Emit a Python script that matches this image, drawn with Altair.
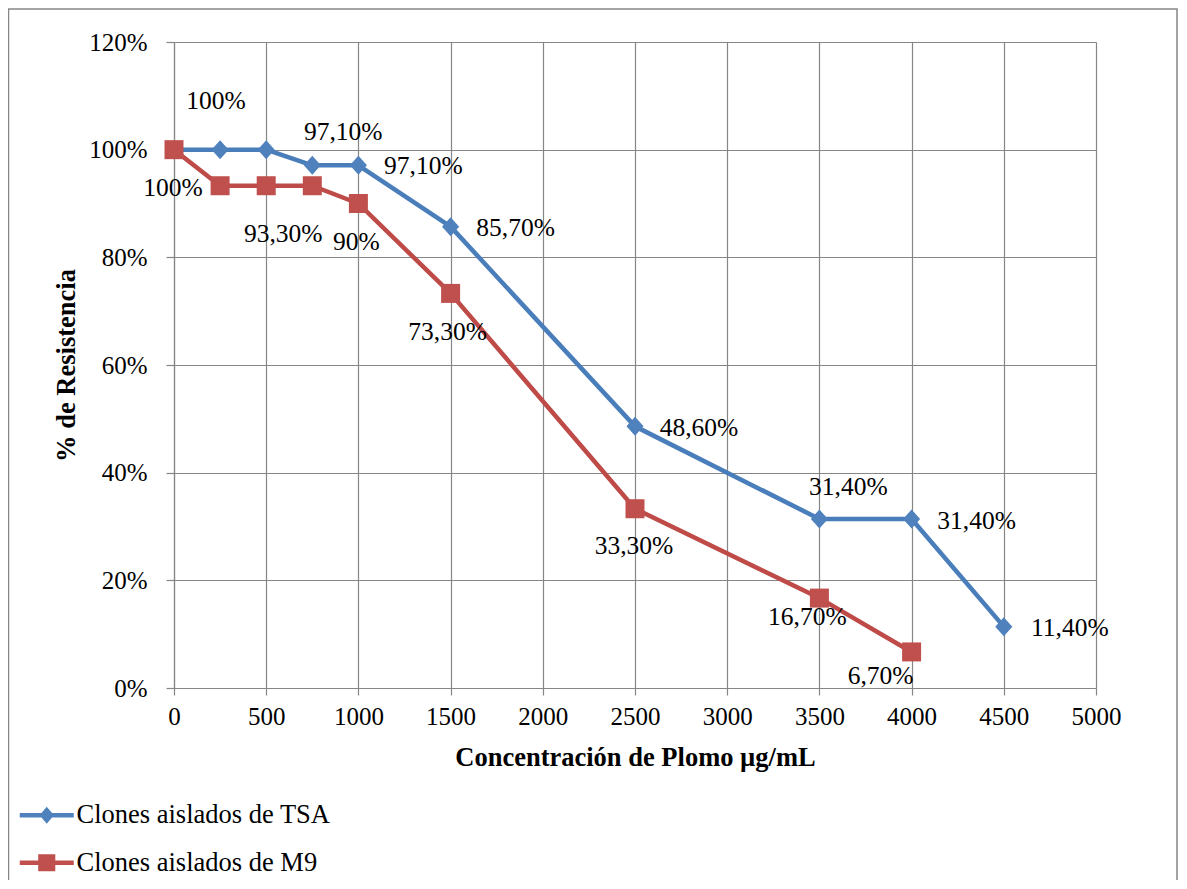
import altair as alt
import pandas as pd

# ---------------- data ----------------
series = ["Clones aislados de TSA", "Clones aislados de M9"]

conc_tsa = [0, 250, 500, 750, 1000, 1500, 2500, 3500, 4000, 4500]
res_tsa = [100, 100, 100, 97.1, 97.1, 85.7, 48.6, 31.4, 31.4, 11.4]
lab_tsa = ["", "100%", "", "97,10%", "97,10%", "85,70%", "48,60%", "31,40%", "31,40%", "11,40%"]

conc_m9 = [0, 250, 500, 750, 1000, 1500, 2500, 3500, 4000]
res_m9 = [100, 93.3, 93.3, 93.3, 90, 73.3, 33.3, 16.7, 6.7]
lab_m9 = ["100%", "", "93,30%", "", "90%", "73,30%", "33,30%", "16,70%", "6,70%"]

x_ticks = [0, 500, 1000, 1500, 2000, 2500, 3000, 3500, 4000, 4500, 5000]
y_ticks = [0, 20, 40, 60, 80, 100, 120]

x_title = "Concentración de Plomo µg/mL"
y_title = "% de Resistencia"

# ---------------- styles ----------------
line_colors = ["#4A7EBB", "#BE4B48"]
marker_colors = ["#4F81BD", "#C0504D"]
grid_color = "#868686"
FONT = "Liberation Serif"

# label offsets (pixels) for each data label, same order as the data
off_tsa = [None, (-4, -49), None, (31, -33), (65, 1), (65, 1), (64, 2), (29, -32), (65, 2), (66, 1)]
off_m9 = [(-1, 38), None, (17, 48), None, (-2, 38), (-3, 39), (-1, 37), (-12, 19), (-31, 24)]

diamond_path = "M0,-1 L0.9,0 L0,1 L-0.9,0 Z"
legend_paths = [
    "M-3.0,-0.26 L3.0,-0.26 L3.0,0.26 L-3.0,0.26 Z M0,-0.95 L0.8,0 L0,0.95 L-0.8,0 Z",
    "M-3.0,-0.26 L3.0,-0.26 L3.0,0.26 L-3.0,0.26 Z M-0.95,-0.95 L0.95,-0.95 L0.95,0.95 L-0.95,0.95 Z",
]

# ---------------- table ----------------
rows = []
for i, (c, r, l) in enumerate(zip(conc_tsa, res_tsa, lab_tsa)):
    rows.append({"conc": c, "res": r, "serie": series[0], "label": l, "key": f"a{i}"})
for i, (c, r, l) in enumerate(zip(conc_m9, res_m9, lab_m9)):
    rows.append({"conc": c, "res": r, "serie": series[1], "label": l, "key": f"b{i}"})
df = pd.DataFrame(rows)

W, H = 922, 646
PAD = {"left": 166, "top": 34, "right": 82, "bottom": 192}

x_enc = alt.X(
    "conc:Q",
    scale=alt.Scale(domain=[0, 5000], nice=False),
    axis=alt.Axis(
        values=x_ticks, format="d", labelFlush=False, title=x_title, titleX=W / 2, titleY=69,
        titleBaseline="middle", titleAlign="center",
    ),
)
y_enc = alt.Y(
    "res:Q",
    scale=alt.Scale(domain=[0, 120], nice=False),
    axis=alt.Axis(
        values=y_ticks, labelExpr="datum.value + '%'", labelFlush=False, title=y_title,
        titleX=-108, titleY=H / 2, titleAngle=-90,
        titleBaseline="middle", titleAlign="center",
    ),
)

base = alt.Chart(df)

border = alt.Chart(pd.DataFrame({"k": [0]})).mark_rect(
    fill=None, stroke=grid_color, strokeWidth=1.5
).encode(
    x=alt.value(-165.5), x2=alt.value(W + PAD["right"] - 1), y=alt.value(-33), y2=alt.value(950)
)

lines = base.mark_line(strokeWidth=4.5, strokeJoin="round", strokeCap="round").encode(
    x=x_enc,
    y=y_enc,
    color=alt.Color("serie:N", scale=alt.Scale(domain=series, range=line_colors), legend=None),
    order="conc:Q",
)

points = base.mark_point(filled=True, opacity=1, size=361).encode(
    x="conc:Q",
    y="res:Q",
    color=alt.Color("serie:N", scale=alt.Scale(domain=series, range=marker_colors), legend=None),
    shape=alt.Shape("serie:N", scale=alt.Scale(domain=series, range=[diamond_path, "square"]), legend=None),
)

legend_layer = base.transform_filter("datum.conc < 0").mark_point(filled=True, opacity=1, size=324).encode(
    x="conc:Q",
    y="res:Q",
    color=alt.Color(
        "serie:N", scale=alt.Scale(domain=series, range=marker_colors),
        legend=alt.Legend(
            title=None, orient="none", legendX=-140.5, legendY=760, direction="vertical",
            symbolSize=324, symbolStrokeWidth=0, symbolOpacity=1, labelOffset=16.5,
            labelFont=FONT, labelFontSize=26.5, labelColor="black", labelLimit=600,
            rowPadding=20.5, padding=0,
        ),
    ),
    shape=alt.Shape("serie:N", scale=alt.Scale(domain=series, range=legend_paths)),
)

text_layers = []
for prefix, offs in (("a", off_tsa), ("b", off_m9)):
    for i, off in enumerate(offs):
        if off is None:
            continue
        text_layers.append(
            base.transform_filter(alt.datum.key == f"{prefix}{i}")
            .mark_text(
                font=FONT, fontSize=25.5, color="black", align="center",
                baseline="middle", dx=off[0], dy=off[1],
            )
            .encode(x="conc:Q", y="res:Q", text="label:N")
        )

chart = (
    alt.layer(border, lines, points, legend_layer, *text_layers)
    .resolve_scale(color="independent", shape="independent")
    .properties(
        width=W, height=H,
        padding=PAD,
        autosize=alt.AutoSizeParams(type="none"),
        background="white",
    )
    .configure_view(stroke=None)
    .configure_axis(
        grid=True, gridColor=grid_color, gridWidth=1.2,
        domainColor=grid_color, domainWidth=1.2,
        tickColor=grid_color, tickWidth=1.2,
        labelFont=FONT, labelFontSize=25, labelColor="black",
        titleFont=FONT, titleFontSize=26.5, titleFontWeight="bold", titleColor="black",
    )
    .configure_axisX(tickSize=7, labelPadding=9)
    .configure_axisY(tickSize=8, labelPadding=19)
)

chart.save("out.html", embed_options={"renderer": "svg", "actions": False})
